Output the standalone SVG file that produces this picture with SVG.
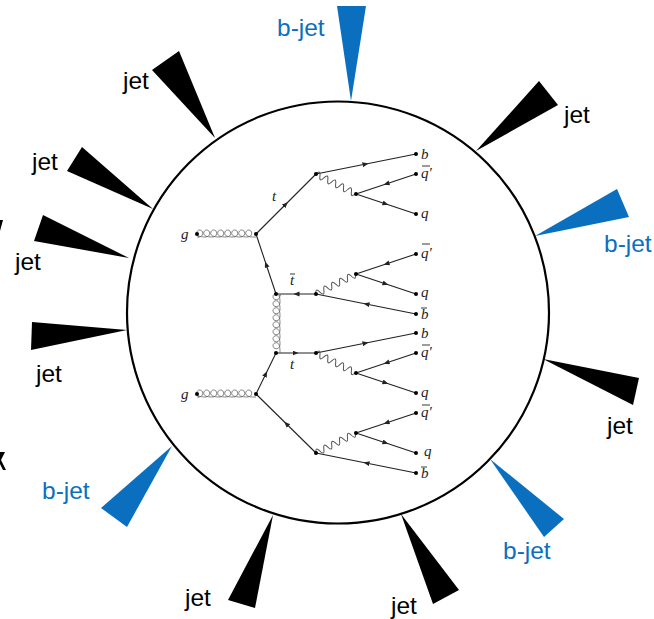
<svg xmlns="http://www.w3.org/2000/svg" width="654" height="619" viewBox="0 0 654 619">
<style>
.j{fill:#000}.bj{fill:#0b6fc0}
.lj{font:24.500px "Liberation Sans",Arial,sans-serif;fill:#000}
.lb{font:24.500px "Liberation Sans",Arial,sans-serif;fill:#0b6fc0}
.f{fill:none;stroke:#222;stroke-width:1.100;marker-mid:url(#a)}
.w{fill:none;stroke:#555;stroke-width:1}
.g{fill:none;stroke:#666;stroke-width:.8}
.d{fill:#000}
.m{font:italic 15px "Liberation Serif","Times New Roman",serif;fill:#222}
.b{stroke:#222;stroke-width:.9}
</style>
<defs>
<marker id="a" markerWidth="8" markerHeight="7" refX="3.500" refY="2.500" orient="auto" markerUnits="userSpaceOnUse"><path d="M0 0L6 2.500L0 5Z" fill="#222"/></marker>
<path id="loop" d="M0 0c2.500 0 4.700-1 4.700-3.700c0-2-1.300-3.300-3-3.300s-3 1.300-3 3.300c0 2.700 3.500 3.700 8.300 3.700" class="g"/>
<g id="gluon">
<path class="g" d="M0 0H2M57 0H59"/>
<use href="#loop" x="1"/><use href="#loop" x="8"/><use href="#loop" x="15"/><use href="#loop" x="22"/><use href="#loop" x="29"/><use href="#loop" x="36"/><use href="#loop" x="43"/><use href="#loop" x="50"/>
</g>
<path id="wave" d="M0 0q2.200-6.500 4.400 0t4.400 0q2.200-6.500 4.400 0t4.400 0q2.200-6.500 4.400 0t4.400 0q2.200-6.500 4.400 0t4.400 0q2.200-6.500 4.400 0t4.400 0" class="w"/>
</defs>
<rect width="654" height="619" fill="#fff"/>
<g id="event"><circle cx="338" cy="312.500" r="211" fill="none" stroke="#000" stroke-width="2.200"/></g>

<g id="jet-top-left"><polygon class="j" points="215,138 179,51 152,70"/><text class="lj" x="123" y="89">jet</text></g>
<g id="bjet-top"><polygon class="bj" points="351,101 337,6 366,6"/><text class="lb" x="277" y="36">b-jet</text></g>
<g id="jet-upper-right"><polygon class="j" points="476,151 539,81 558,105"/><text class="lj" x="564" y="123">jet</text></g>
<g id="bjet-right"><polygon class="bj" points="535,236 617,189 629,217"/><text class="lb" x="604" y="252">b-jet</text></g>
<g id="jet-right"><polygon class="j" points="543,359 639,378 633,405"/><text class="lj" x="607" y="434">jet</text></g>
<g id="bjet-lower-right"><polygon class="bj" points="490,459 564,519 544,537"/><text class="lb" x="503" y="559">b-jet</text></g>
<g id="jet-bottom-right"><polygon class="j" points="401,514 459,590 433,604"/><text class="lj" x="391" y="614">jet</text></g>
<g id="jet-bottom"><polygon class="j" points="273,515 255,608 228,600"/><text class="lj" x="185" y="606">jet</text></g>
<g id="bjet-lower-left"><polygon class="bj" points="172,446 127,527 101,508"/><text class="lb" x="42" y="499">b-jet</text></g>
<g id="jet-left"><polygon class="j" points="127,330 31,350 32,322"/><text class="lj" x="36" y="382">jet</text></g>
<g id="jet-left-upper"><polygon class="j" points="129,258 34,241 43,215"/><text class="lj" x="15" y="270">jet</text></g>
<g id="jet-upper-left"><polygon class="j" points="153,209 67,171 82,147"/><text class="lj" x="32" y="170">jet</text></g>

<g id="connectors">
<path class="f" d="M256 234L286 204L316 174"/>
<path class="f" d="M316 174L366 164L416 154"/>
<path class="f" d="M416 174L386 184L356 194"/>
<path class="f" d="M356 194L386 204L416 214"/>
<path class="f" d="M276 294L266 264L256 234"/>
<path class="f" d="M316 294L296 294L276 294"/>
<path class="f" d="M416 254L386 264L356 274"/>
<path class="f" d="M356 274L386 284L416 294"/>
<path class="f" d="M416 314L366 304L316 294"/>
<path class="f" d="M256 394L266 373.500L276 353"/>
<path class="f" d="M276 353L296 353L316 353"/>
<path class="f" d="M316 353L366 343L416 333"/>
<path class="f" d="M416 353L386 363L356 373"/>
<path class="f" d="M356 373L386 383L416 393"/>
<path class="f" d="M316 453L286 423.500L256 394"/>
<path class="f" d="M416 413L386 423L356 433"/>
<path class="f" d="M356 433L386 443L416 453"/>
<path class="f" d="M416 473L366 463L316 453"/>
<use href="#gluon" transform="translate(197,237)"/>
<use href="#gluon" transform="translate(197,397)"/>
<use href="#gluon" transform="translate(280,294) rotate(90) scale(1,-1)"/>
<use href="#wave" transform="translate(316,174) rotate(26.600)"/>
<use href="#wave" transform="translate(316,294) rotate(-26.600)"/>
<use href="#wave" transform="translate(316,353) rotate(26.600)"/>
<use href="#wave" transform="translate(316,453) rotate(-26.600)"/>
</g>

<g id="vertices" class="d">
<circle cx="197" cy="234" r="2"/><circle cx="256" cy="234" r="2"/><circle cx="316" cy="174" r="2"/><circle cx="356" cy="194" r="2"/><circle cx="416" cy="154" r="2"/><circle cx="416" cy="174" r="2"/><circle cx="416" cy="214" r="2"/>
<circle cx="276" cy="294" r="2"/><circle cx="316" cy="294" r="2"/><circle cx="356" cy="274" r="2"/><circle cx="416" cy="254" r="2"/><circle cx="416" cy="294" r="2"/><circle cx="416" cy="314" r="2"/>
<circle cx="197" cy="394" r="2"/><circle cx="256" cy="394" r="2"/><circle cx="276" cy="353" r="2"/><circle cx="316" cy="353" r="2"/><circle cx="356" cy="373" r="2"/><circle cx="416" cy="333" r="2"/><circle cx="416" cy="353" r="2"/><circle cx="416" cy="393" r="2"/>
<circle cx="316" cy="453" r="2"/><circle cx="356" cy="433" r="2"/><circle cx="416" cy="413" r="2"/><circle cx="416" cy="453" r="2"/><circle cx="416" cy="473" r="2"/>
</g>

<g id="labels">
<text class="m" x="181" y="239">g</text><text class="m" x="181" y="399">g</text>
<text class="m" x="272" y="201">t</text><text class="m" x="290" y="285">t</text><line class="b" x1="290" y1="274" x2="295" y2="274"/><text class="m" x="290" y="369">t</text>
<text class="m" x="421" y="159">b</text><text class="m" x="421" y="338">b</text>
<text class="m" x="421" y="319">b</text><line class="b" x1="421" y1="308" x2="427" y2="308"/>
<text class="m" x="421" y="478">b</text><line class="b" x1="421" y1="467" x2="427" y2="467"/>
<text class="m" x="421" y="178">q′</text><line class="b" x1="422" y1="166" x2="430" y2="166"/>
<text class="m" x="421" y="258">q′</text><line class="b" x1="422" y1="244" x2="430" y2="244"/>
<text class="m" x="421" y="357">q′</text><line class="b" x1="422" y1="345" x2="430" y2="345"/>
<text class="m" x="421" y="417">q′</text><line class="b" x1="422" y1="405" x2="430" y2="405"/>
<text class="m" x="421" y="218">q</text><text class="m" x="421" y="297">q</text><text class="m" x="421" y="397">q</text><text class="m" x="424" y="456">q</text>
</g>
<g id="edge-marks"><polygon class="j" points="0,220 3,220 0,231"/><polygon class="j" points="0,452 5,452 1,460 6,470 3,470 0,464"/></g>
</svg>
